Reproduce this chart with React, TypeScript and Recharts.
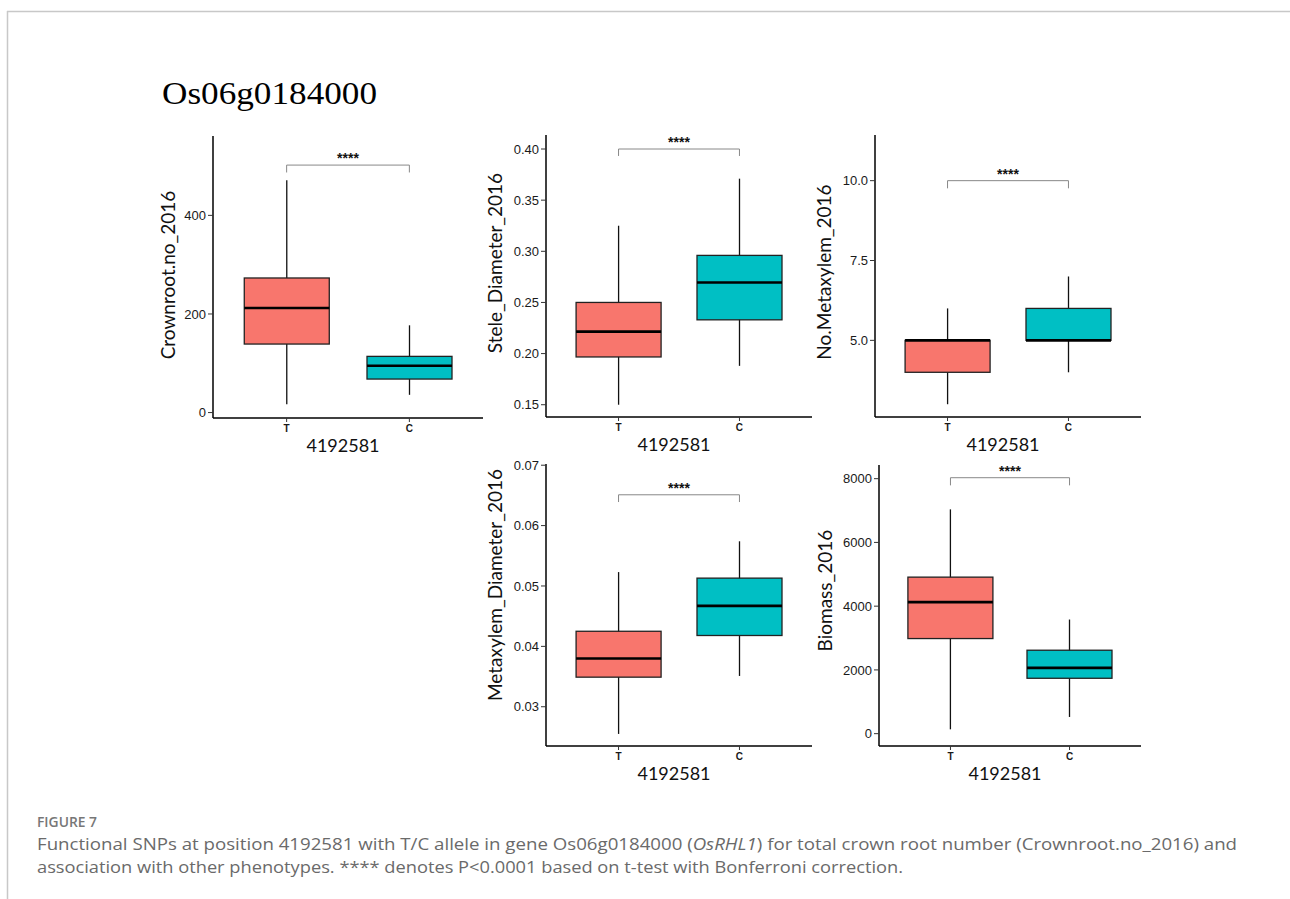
import React from 'react';
import { ComposedChart, Bar, XAxis, YAxis, ReferenceLine } from 'recharts';

const alleles = ['T', 'C'];
const snpPosition = '4192581';
const traits = [
  'Crownroot.no_2016',
  'Stele_Diameter_2016',
  'No.Metaxylem_2016',
  'Metaxylem_Diameter_2016',
  'Biomass_2016',
];

// box statistics per trait, [T, C]
const whiskerLow = [[17, 36], [0.15, 0.188], [3.0, 4.0], [0.0255, 0.0351], [136, 524]];
const lowerQuartile = [[139, 68], [0.1967, 0.233], [4.0, 5.0], [0.0349, 0.0418], [2984, 1738]];
const medians = [[212, 95], [0.2215, 0.2695], [5.0, 5.0], [0.038, 0.0467], [4126, 2063]];
const upperQuartile = [[273, 114], [0.25, 0.296], [5.0, 6.0], [0.0425, 0.0513], [4911, 2618]];
const whiskerHigh = [[471, 177], [0.325, 0.371], [6.0, 7.0], [0.0523, 0.0574], [7037, 3581]];

const yTicks = [
  [0, 200, 400],
  [0.15, 0.2, 0.25, 0.3, 0.35, 0.4],
  [5, 7.5, 10],
  [0.03, 0.04, 0.05, 0.06, 0.07],
  [0, 2000, 4000, 6000, 8000],
];
const yDomains = [[-11, 561], [0.138, 0.4137], [2.6, 11.43], [0.0235, 0.0702], [-387, 8429]];
const tickDecimals = [0, 2, 1, 2, 0];

// significance bracket: height and drop of the end ticks
const bracketY = [502, 0.4, 10.0, 0.0651, 8030];
const bracketDrop = [15, 0.0068, 0.24, 0.0012, 240];
const significance = '****';

const FILLS: Record<string, string> = { T: '#F8766D', C: '#00BFC4' };
const AXIS_FONT = '"Liberation Sans", Arial, sans-serif';
const TITLE_FONT = 'Lato, "Open Sans", sans-serif';
const CAPTION_FONT = '"Open Sans", "Noto Sans", sans-serif';

// plot area of each panel in page px
const PANELS = [
  { l: 213, t: 136, r: 483, b: 418, labelDx: 46, labelDy: -2 },
  { l: 546, t: 135, r: 812, b: 417, labelDx: 52, labelDy: -13 },
  { l: 875, t: 135, r: 1141, b: 417, labelDx: 52, labelDy: -4 },
  { l: 546, t: 464, r: 812, b: 746, labelDx: 52, labelDy: -20 },
  { l: 879, t: 465, r: 1141, b: 746, labelDx: 55, labelDy: -15 },
];

const Y_W = 80;
const M_TOP = 10;
const M_RIGHT = 10;
const X_H = 50;

function BoxShape(props: any) {
  const { x, y, width, height, payload } = props;
  const top = Math.min(y, y + height);
  const bot = Math.max(y, y + height);
  const span = payload.max - payload.min;
  const py = (v: number) => top + ((payload.max - v) / span) * (bot - top);
  const cx = x + width / 2;
  const m = py(payload.median);
  return (
    <g>
      <line x1={cx} x2={cx} y1={top} y2={bot} stroke="#111" strokeWidth={1.3} />
      <rect
        x={x}
        y={py(payload.q3)}
        width={width}
        height={py(payload.q1) - py(payload.q3)}
        fill={FILLS[payload.allele]}
        stroke="#222"
        strokeWidth={1.3}
      />
      <line x1={x} x2={x + width} y1={m} y2={m} stroke="#000" strokeWidth={2.6} />
    </g>
  );
}

function Panel({ i }: { i: number }) {
  const p = PANELS[i];
  const w = p.r - p.l;
  const s = w / 2.2;
  const rows = alleles.map((a, k) => ({
    allele: a,
    min: whiskerLow[i][k],
    q1: lowerQuartile[i][k],
    median: medians[i][k],
    q3: upperQuartile[i][k],
    max: whiskerHigh[i][k],
  }));
  const by = bracketY[i];
  const bd = bracketDrop[i];
  return (
    <div style={{ position: 'absolute', left: p.l - Y_W, top: p.t - M_TOP }}>
      <ComposedChart
        width={w + Y_W + M_RIGHT}
        height={p.b - p.t + M_TOP + X_H}
        data={rows}
        margin={{ top: M_TOP, right: M_RIGHT, bottom: 0, left: 0 }}
      >
        <XAxis
          dataKey="allele"
          height={X_H}
          padding={{ left: 0.1 * s, right: 0.1 * s }}
          axisLine={{ stroke: '#000', strokeWidth: 1.5 }}
          tickLine={{ stroke: '#333' }}
          tickSize={4}
          tickMargin={3}
          tick={{ fontSize: 10, fontWeight: 700, fill: '#1a1a1a', fontFamily: AXIS_FONT }}
          label={{
            content: (lp: any) => {
              const vb = lp.viewBox;
              return (
                <text
                  x={vb.x + vb.width / 2 - 5}
                  y={vb.y + 34}
                  textAnchor="middle"
                  fontSize={18}
                  fontFamily={TITLE_FONT}
                  fill="#111"
                >
                  {snpPosition}
                </text>
              );
            },
          }}
        />
        <YAxis
          type="number"
          width={Y_W}
          domain={yDomains[i]}
          ticks={yTicks[i]}
          interval={0}
          allowDataOverflow
          tickFormatter={(v: number) => v.toFixed(tickDecimals[i])}
          axisLine={{ stroke: '#000', strokeWidth: 1.5 }}
          tickLine={{ stroke: '#333' }}
          tickSize={5}
          tickMargin={2}
          tick={{ fontSize: 13, fill: '#1a1a1a', fontFamily: AXIS_FONT }}
          label={{
            content: (lp: any) => {
              const vb = lp.viewBox;
              const cx = vb.x + vb.width - p.labelDx;
              const cy = vb.y + vb.height / 2 + p.labelDy;
              return (
                <text
                  x={cx}
                  y={cy}
                  transform={`rotate(-90 ${cx} ${cy})`}
                  textAnchor="middle"
                  dominantBaseline="central"
                  fontSize={19}
                  fontFamily={TITLE_FONT}
                  fill="#111"
                >
                  {traits[i]}
                </text>
              );
            },
          }}
        />
        <Bar
          dataKey={(d: any) => [d.min, d.max]}
          barSize={85}
          shape={<BoxShape />}
          isAnimationActive={false}
        />
        <ReferenceLine
          segment={[{ x: 'T', y: by }, { x: 'C', y: by }]}
          stroke="#888"
          strokeWidth={1}
          label={{
            value: significance,
            position: 'top',
            offset: 2,
            fontSize: 14,
            fontWeight: 700,
            fill: '#111',
            fontFamily: AXIS_FONT,
          }}
        />
        <ReferenceLine segment={[{ x: 'T', y: by }, { x: 'T', y: by - bd }]} stroke="#888" strokeWidth={1} />
        <ReferenceLine segment={[{ x: 'C', y: by }, { x: 'C', y: by - bd }]} stroke="#888" strokeWidth={1} />
      </ComposedChart>
    </div>
  );
}

export default function App() {
  return (
    <div style={{ position: 'absolute', left: 0, top: 0, width: 1290, height: 899, background: '#fff' }}>
      <svg width={1290} height={899} style={{ position: 'absolute', left: 0, top: 0 }}>
        <line x1={7} y1={11.5} x2={1290} y2={11.5} stroke="#c8c8c8" strokeWidth={1.5} />
        <line x1={7.5} y1={11} x2={7.5} y2={899} stroke="#c8c8c8" strokeWidth={1.5} />
        <text
          x={162}
          y={104}
          fontSize={31}
          fontFamily='"Liberation Serif", "Times New Roman", serif'
          fill="#000"
          textLength={215}
          lengthAdjust="spacingAndGlyphs"
        >
          Os06g0184000
        </text>
        <text
          x={37}
          y={827}
          fontSize={14}
          fontWeight={600}
          fill="#777"
          fontFamily={CAPTION_FONT}
          textLength={60}
          lengthAdjust="spacingAndGlyphs"
        >
          FIGURE 7
        </text>
        <text x={37} y={850} fontSize={16} fill="#6a6a6a" fontFamily={CAPTION_FONT} textLength={1200} lengthAdjust="spacingAndGlyphs">
          Functional SNPs at position 4192581 with T/C allele in gene Os06g0184000 (
          <tspan fontStyle="italic">OsRHL1</tspan>) for total crown root number (Crownroot.no_2016) and
        </text>
        <text x={37} y={873} fontSize={16} fill="#6a6a6a" fontFamily={CAPTION_FONT} textLength={866} lengthAdjust="spacingAndGlyphs">
          association with other phenotypes. **** denotes P&lt;0.0001 based on t-test with Bonferroni correction.
        </text>
      </svg>
      {traits.map((_, i) => (
        <Panel key={i} i={i} />
      ))}
    </div>
  );
}
